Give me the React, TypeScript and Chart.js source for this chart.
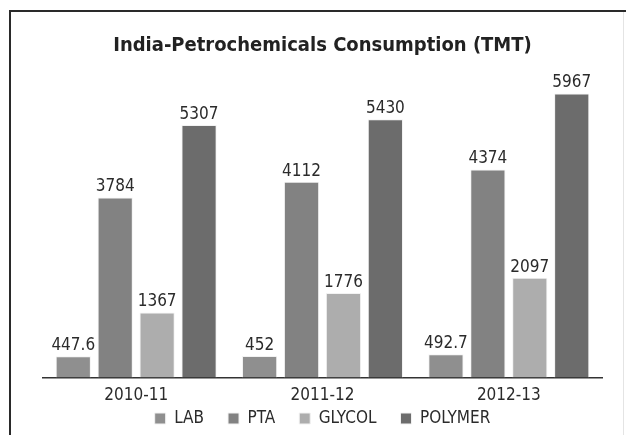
import React, { useEffect, useRef } from "react";
import { Chart, registerables } from "chart.js";

Chart.register(...registerables);

const categories = ["2010-11", "2011-12", "2012-13"];
const seriesNames = ["LAB", "PTA", "GLYCOL", "POLYMER"];
const labValues = [447.6, 452, 492.7];
const ptaValues = [3784, 4112, 4374];
const glycolValues = [1367, 1776, 2097];
const polymerValues = [5307, 5430, 5967];
const seriesColors = ["#8f8f8f", "#828282", "#adadad", "#6c6c6c"];

const FONT = "'Liberation Sans Narrow', 'Arial Narrow', 'DejaVu Sans Condensed', Roboto, sans-serif";
const LEGEND_SHIFT = 28;

const frameAndLabels = {
  id: "frameAndLabels",
  afterLayout(chart: any) {
    const lg = chart.legend;
    if (lg) {
      lg.top -= LEGEND_SHIFT;
      lg.bottom -= LEGEND_SHIFT;
    }
  },
  beforeDraw(chart: any) {
    const ctx = chart.ctx;
    ctx.save();
    ctx.fillStyle = "#ffffff";
    ctx.fillRect(0, 0, chart.width, chart.height);
    ctx.strokeStyle = "#2a2a2a";
    ctx.lineWidth = 2;
    ctx.beginPath();
    ctx.moveTo(10, chart.height);
    ctx.lineTo(10, 11);
    ctx.lineTo(chart.width, 11);
    ctx.stroke();
    ctx.strokeStyle = "#e4e4e4";
    ctx.lineWidth = 1;
    ctx.beginPath();
    ctx.moveTo(623.5, 12);
    ctx.lineTo(623.5, chart.height);
    ctx.stroke();
    ctx.restore();
  },
  afterDatasetsDraw(chart: any) {
    const ctx = chart.ctx;
    ctx.save();
    ctx.font = "17px " + FONT;
    ctx.fillStyle = "#2b2b2b";
    ctx.textAlign = "center";
    ctx.textBaseline = "bottom";
    chart.data.datasets.forEach((ds: any, di: number) => {
      const meta = chart.getDatasetMeta(di);
      meta.data.forEach((el: any, i: number) => {
        ctx.fillText(String(ds.data[i]), el.x, el.y - 2);
      });
    });
    ctx.restore();
  },
};

export default function App() {
  const ref = useRef<HTMLCanvasElement | null>(null);
  useEffect(() => {
    document.body.style.margin = "0";
    const values = [labValues, ptaValues, glycolValues, polymerValues];
    const chart = new Chart(ref.current as HTMLCanvasElement, {
      type: "bar",
      data: {
        labels: categories,
        datasets: seriesNames.map((name, i) => ({
          label: name,
          data: values[i],
          backgroundColor: seriesColors[i],
          borderColor: "#f2f2f2",
          borderWidth: 1,
          barPercentage: 0.84,
          categoryPercentage: 0.9,
        })),
      },
      options: {
        responsive: false,
        animation: false,
        devicePixelRatio: 1,
        layout: { padding: { top: 34, left: 43, right: 24, bottom: -30 } },
        scales: {
          y: { display: false, min: 0, max: 6000 },
          x: {
            grid: { display: false, drawTicks: false },
            border: { display: true, color: "#333333", width: 1.5 },
            ticks: { color: "#2b2b2b", font: { family: FONT, size: 17 }, padding: 8 },
          },
        },
        plugins: {
          title: {
            display: true,
            text: "India-Petrochemicals Consumption (TMT)",
            color: "#222222",
            font: { family: FONT, size: 20, weight: "bold" },
            padding: { top: 0, bottom: 34 },
          },
          legend: {
            position: "bottom",
            labels: {
              color: "#2b2b2b",
              font: { family: FONT, size: 17 },
              boxWidth: 11,
              boxHeight: 11,
              padding: 24,
            },
          },
          tooltip: { enabled: false },
        },
      },
      plugins: [frameAndLabels],
    });
    return () => chart.destroy();
  }, []);
  return <canvas ref={ref} width={626} height={435} style={{ display: "block" }} />;
}
